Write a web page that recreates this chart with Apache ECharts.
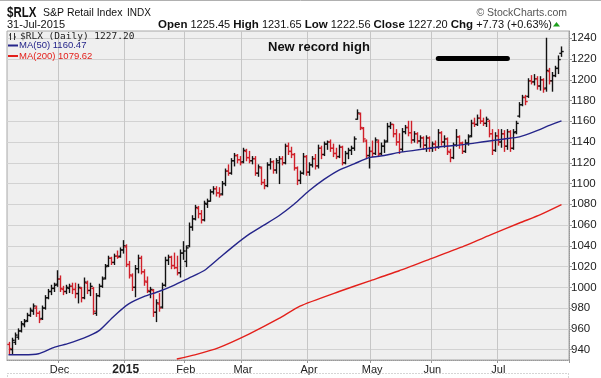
<!DOCTYPE html>
<html>
<head>
<meta charset="utf-8">
<script src="https://cdn.jsdelivr.net/npm/echarts@6/dist/echarts.min.js"></script>
<style>
  html, body { margin: 0; padding: 0; background: #fff; }
  #chart { width: 601px; height: 378px; }
</style>
</head>
<body>
<div id="chart"></div>
<script>
// $RLX daily bars, 5-Nov-2014 .. 31-Jul-2015 (one row per month)
var opens = [
  945,940,947,952,958,964,968,973,977,980,975,970,980,990,996,999,1003,
  1008,998,996,999,1001,998,994,999,990,1004,997,999,975,992,1001,1009,1021,1028,1024,1030,1030,1036,
  1039,1022,1011,1000,1018,1028,1015,1005,996,997,976,984,981,1002,1026,1029,1021,1019,1014,1033,
  1025,1040,1058,1066,1076,1071,1065,1080,1083,1092,1095,1091,1090,1100,1112,1110,1122,1127,1123,
  1121,1131,1125,1122,1124,1110,1115,1101,1098,1118,1121,1113,1120,1124,1120,1136,1131,1128,1115,1103,1110,1126,
  1111,1118,1124,1117,1134,1128,1138,1140,1134,1129,1126,1135,1120,1129,1132,1134,1162,1167,1153,1141,1127,
  1131,1129,1140,1129,1136,1141,1155,1157,1148,1140,1133,1150,1154,1149,1142,1148,1141,1144,1137,1144,
  1134,1138,1135,1149,1140,1143,1130,1125,1137,1145,1139,1131,1139,1146,1158,1157,1163,1160,1158,1160,1148,1132,
  1146,1140,1148,1136,1150,1134,1150,1165,1176,1183,1184,1199,1198,1201,1194,1200,1192,1208,1199,1204,1211,1225.45
];
var highs = [
  947,951,956,960,967,969,975,980,984,982,977,982,992,998,1002,1004,1016,
  1011,1001,1002,1003,1004,1004,1003,1000,1009,1006,1004,1000,994,1003,1010,1022,1030,1029,1032,1035,1038,1045,
  1041,1025,1013,1021,1031,1030,1017,1010,1000,998,988,994,1004,1029,1031,1030,1033,1030,1036,1044,
  1040,1062,1069,1079,1078,1074,1083,1085,1094,1097,1097,1096,1102,1114,1118,1124,1129,1128,1126,
  1134,1133,1131,1126,1126,1118,1116,1104,1120,1124,1122,1124,1126,1126,1138,1139,1135,1129,1116,1112,1129,1127,
  1120,1126,1128,1137,1136,1140,1141,1142,1138,1134,1137,1136,1131,1134,1136,1145,1171,1168,1154,1142,1135,
  1141,1144,1142,1139,1142,1158,1159,1157,1152,1148,1153,1156,1160,1160,1150,1149,1146,1145,1146,1145,
  1140,1141,1152,1150,1146,1144,1133,1139,1152,1146,1140,1142,1147,1161,1163,1166,1171,1163,1164,1161,1152,1149,
  1152,1152,1151,1152,1151,1152,1160,1178,1185,1185,1201,1204,1205,1203,1203,1201,1240,1211,1207,1213,1223,1231.65
];
var lows = [
  936,936,945,950,957,962,967,972,974,972,966,969,979,989,993,996,1001,
  996,993,994,995,994,990,985,986,989,994,992,974,973,991,1000,1008,1020,1022,1022,1028,1029,1033,
  1020,1009,997,991,1014,1013,1002,995,990,972,967,977,980,1001,1022,1018,1018,1012,1010,1027,
  1020,1039,1055,1065,1067,1062,1064,1077,1083,1090,1088,1087,1089,1098,1108,1109,1117,1120,1118,
  1120,1122,1120,1119,1108,1107,1099,1095,1097,1114,1110,1110,1100,1118,1119,1128,1125,1113,1099,1100,1109,1108,
  1108,1116,1114,1115,1124,1127,1133,1131,1126,1124,1125,1118,1119,1124,1128,1132,1162,1152,1140,1124,1115,
  1126,1128,1126,1128,1130,1140,1153,1145,1137,1129,1131,1148,1146,1139,1140,1139,1135,1133,1131,1131,
  1131,1132,1134,1137,1135,1128,1121,1124,1136,1134,1129,1130,1137,1145,1155,1156,1158,1156,1155,1145,1128,1131,
  1137,1135,1131,1133,1131,1133,1148,1164,1175,1176,1183,1196,1195,1191,1190,1188,1189,1196,1189,1203,1206,1222.56
];
var closes = [
  941,949,954,958,965,967,973,978,982,975,969,980,990,996,999,1002,1008,
  999,996,1000,1001,998,994,1000,990,1005,997,1001,977,992,1001,1008,1020,1028,1024,1030,1029,1036,1040,
  1022,1012,1000,1018,1028,1015,1006,997,998,976,985,980,1002,1026,1029,1021,1019,1014,1033,1035,
  1038,1058,1066,1077,1071,1065,1081,1083,1092,1095,1091,1089,1100,1112,1110,1122,1127,1123,1120,
  1132,1125,1122,1124,1110,1116,1101,1098,1118,1121,1113,1122,1124,1120,1136,1131,1128,1115,1103,1110,1126,1111,
  1118,1124,1117,1134,1128,1138,1140,1134,1129,1126,1135,1120,1129,1132,1134,1143,1168,1154,1143,1127,1131,
  1129,1142,1128,1136,1140,1155,1157,1148,1140,1133,1150,1154,1149,1142,1148,1141,1144,1137,1144,1134,
  1138,1135,1149,1140,1143,1131,1125,1137,1145,1139,1131,1139,1145,1158,1157,1163,1160,1158,1162,1148,1132,1146,
  1140,1148,1136,1150,1134,1149,1158,1176,1183,1179,1199,1198,1201,1194,1200,1191,1209,1199,1204,1211,1219.47,1227.20
];

// moving averages (bar index -> value)
var ma50At = [0,5,10,15,20,25,30,35,40,45,50,55,60,65,70,75,80,85,90,95,100,105,110,115,120,125,130,135,140,145,150,155,160,165,170,175,180,184];
var ma50 = [935,935,936,942,946,951,958,972,984,991,996,1002,1009,1016,1028,1040,1051,1060,1069,1080,1093,1104,1113,1119,1125,1127,1130,1132,1134,1136,1137,1139,1141,1143,1145,1150,1156,1160.47];
var ma200At = [56,62,70,80,90,97,110,120,130,140,150,160,170,177,184];
var ma200 = [931,935,942,955,970,982,996,1006,1016,1027,1038,1050,1062,1070,1079.62];

var yTicks = [940,960,980,1000,1020,1040,1060,1080,1100,1120,1140,1160,1180,1200,1220,1240];
var monthLabels = {'12': 'Dec', '01': '2015', '02': 'Feb', '03': 'Mar', '04': 'Apr', '05': 'May', '06': 'Jun', '07': 'Jul'};
var holidays = ['2014-11-27','2014-12-25','2015-01-01','2015-01-19','2015-02-16','2015-04-03','2015-05-25','2015-07-03'];

function tradingDays(start, end) {
    var out = [];
    var d = new Date(start + 'T00:00:00Z'), e = new Date(end + 'T00:00:00Z');
    while (d <= e) {
        var wd = d.getUTCDay(), s = d.toISOString().slice(0, 10);
        if (wd !== 0 && wd !== 6 && holidays.indexOf(s) < 0) out.push(s);
        d.setUTCDate(d.getUTCDate() + 1);
    }
    return out;
}
// two empty days of padding on the right, like the original
var dates = tradingDays('2014-11-05', '2015-08-04');

function isMonthStart(idx) {
    if (idx <= 0 || idx >= dates.length) return false;
    var m = dates[idx].slice(5, 7);
    return m !== dates[idx - 1].slice(5, 7) && monthLabels[m] !== undefined;
}

var bars = [];
for (var i = 0; i < closes.length; i++) {
    var prev = i > 0 ? closes[i - 1] : opens[i];
    bars.push([i, opens[i], closes[i], lows[i], highs[i], closes[i] >= prev ? 1 : 0]);
}
var ma50Data = ma50At.map(function (k, j) { return [dates[k], ma50[j]]; });
var ma200Data = ma200At.map(function (k, j) { return [dates[k], ma200[j]]; });

var FONT = "'Liberation Sans', Arial, sans-serif";
var chart = echarts.init(document.getElementById('chart'));
var option = {
    animation: false,
    backgroundColor: '#fff',
    grid: {left: 7, right: 32, top: 31, bottom: 18, show: true, backgroundColor: '#efefef', borderColor: '#a8a8a8', borderWidth: 1},
    xAxis: {
        type: 'category',
        data: dates,
        boundaryGap: true,
        axisLine: {show: true, lineStyle: {color: '#999', type: 'dotted'}},
        axisTick: {show: true, interval: function (idx) { return isMonthStart(idx); }, length: 3, lineStyle: {color: '#999'}},
        axisLabel: {
            interval: function (idx) { return isMonthStart(idx); },
            formatter: function (v) {
                var m = v.slice(5, 7);
                return m === '01' ? '{b|2015}' : monthLabels[m];
            },
            fontFamily: FONT, fontSize: 11, color: '#222', margin: 4,
            rich: {b: {fontWeight: 'bold', fontSize: 12, fontFamily: FONT, color: '#222'}}
        },
        splitLine: {show: true, interval: function (idx) { return isMonthStart(idx); }, lineStyle: {color: '#c6c6c6'}}
    },
    yAxis: {
        type: 'value',
        position: 'right',
        min: 930,
        max: 1247,
        axisLine: {show: true, lineStyle: {color: '#999', type: 'dotted'}},
        axisTick: {show: true, length: 3, customValues: yTicks, lineStyle: {color: '#999'}},
        axisLabel: {
            customValues: yTicks,
            formatter: function (v) { return String(v); },
            fontFamily: FONT, fontSize: 11.5, color: '#222', margin: 2
        },
        splitLine: {show: true, lineStyle: {color: '#d2d2d2'}}
    },
    series: [
        {
            type: 'custom',
            name: '$RLX',
            clip: true,
            encode: {x: 0, y: [1, 2, 3, 4]},
            data: bars,
            renderItem: function (params, api) {
                var idx = api.value(0);
                var pO = api.coord([idx, api.value(1)]);
                var pC = api.coord([idx, api.value(2)]);
                var pL = api.coord([idx, api.value(3)]);
                var pH = api.coord([idx, api.value(4)]);
                var col = api.value(5) ? '#111' : '#d0202a';
                var x = Math.round(pH[0]) + 0.5;
                var st = {stroke: col, lineWidth: 1.4};
                return {
                    type: 'group',
                    children: [
                        {type: 'line', shape: {x1: x, y1: pH[1] - 0.5, x2: x, y2: pL[1] + 0.5}, style: st},
                        {type: 'line', shape: {x1: x - 2.2, y1: pO[1], x2: x, y2: pO[1]}, style: st},
                        {type: 'line', shape: {x1: x, y1: pC[1], x2: x + 2.2, y2: pC[1]}, style: st}
                    ]
                };
            }
        },
        {
            type: 'line',
            name: 'MA(50)',
            data: ma50Data,
            symbol: 'none',
            smooth: 0.2,
            clip: true,
            lineStyle: {color: '#25258a', width: 1.4},
            markLine: {
                silent: true,
                symbol: ['none', 'none'],
                label: {show: false},
                lineStyle: {color: '#000', width: 5, type: 'solid', cap: 'round'},
                data: [[{coord: [dates[143], 1221]}, {coord: [dates[166], 1221]}]]
            }
        },
        {
            type: 'line',
            name: 'MA(200)',
            data: ma200Data,
            symbol: 'none',
            smooth: 0.2,
            clip: true,
            lineStyle: {color: '#e3201b', width: 1.4}
        }
    ],
    graphic: [
        {type: 'line', z: 100, shape: {x1: 0, y1: 0.5, x2: 601, y2: 0.5}, style: {stroke: '#b0b0b0', lineWidth: 1}},
        {type: 'rect', z: 100, shape: {x: 7.5, y: 373.5, width: 561, height: 30}, style: {fill: null, stroke: '#aaa', lineDash: [1, 2]}},
        {type: 'text', z: 100, x: 7, y: 13, scaleX: 0.82, style: {text: '$RLX', fontFamily: FONT, fontWeight: 'bold', fontSize: 14, fill: '#111', verticalAlign: 'middle'}},
        {type: 'text', z: 100, x: 43, y: 13.5, style: {text: 'S&P Retail Index', fontFamily: FONT, fontSize: 10.5, fill: '#111', verticalAlign: 'middle'}},
        {type: 'text', z: 100, x: 127, y: 13.5, style: {text: 'INDX', fontFamily: FONT, fontSize: 10, fill: '#111', verticalAlign: 'middle'}},
        {type: 'text', z: 100, x: 7, y: 25, style: {text: '31-Jul-2015', fontFamily: FONT, fontSize: 11, fill: '#111', verticalAlign: 'middle'}},
        {type: 'text', z: 100, x: 567, y: 13, style: {text: '\u00a9 StockCharts.com', fontFamily: FONT, fontSize: 10.5, fill: '#555', align: 'right', verticalAlign: 'middle'}},
        {type: 'text', z: 100, x: 552, y: 25, style: {
            text: '{b|Open} 1225.45 {b|High} 1231.65 {b|Low} 1222.56 {b|Close} 1227.20 {b|Chg} +7.73 (+0.63%)',
            fontFamily: FONT, fontSize: 11, fill: '#111', align: 'right', verticalAlign: 'middle',
            rich: {b: {fontFamily: FONT, fontWeight: 'bold', fontSize: 11.5, fill: '#111'}}
        }},
        {type: 'polygon', z: 100, shape: {points: [[553, 26.5], [560, 26.5], [556.5, 22]]}, style: {fill: '#1ea01e'}},
        // legend inside the plot
        {type: 'group', z: 100, x: 9, y: 33, children: [
            {type: 'line', z: 100, shape: {x1: 1.5, y1: 0, x2: 1.5, y2: 7}, style: {stroke: '#333', lineWidth: 1}},
            {type: 'line', z: 100, shape: {x1: 0, y1: 2, x2: 1.5, y2: 2}, style: {stroke: '#333', lineWidth: 1}},
            {type: 'line', z: 100, shape: {x1: 5.5, y1: 0, x2: 5.5, y2: 7}, style: {stroke: '#333', lineWidth: 1}},
            {type: 'line', z: 100, shape: {x1: 5.5, y1: 4, x2: 7, y2: 4}, style: {stroke: '#333', lineWidth: 1}}
        ]},
        {type: 'text', z: 100, x: 20, y: 36.5, style: {text: '$RLX (Daily) 1227.20', fontFamily: "'DejaVu Sans Mono', monospace", fontSize: 9.5, fill: '#222', verticalAlign: 'middle'}},
        {type: 'line', z: 100, shape: {x1: 8, y1: 45.5, x2: 18, y2: 45.5}, style: {stroke: '#25258a', lineWidth: 2}},
        {type: 'text', z: 100, x: 19, y: 45.5, style: {text: 'MA(50) 1160.47', fontFamily: FONT, fontSize: 9.5, fill: '#25258a', verticalAlign: 'middle'}},
        {type: 'line', z: 100, shape: {x1: 8, y1: 56, x2: 18, y2: 56}, style: {stroke: '#e3201b', lineWidth: 2}},
        {type: 'text', z: 100, x: 19, y: 56, style: {text: 'MA(200) 1079.62', fontFamily: FONT, fontSize: 9.5, fill: '#e3201b', verticalAlign: 'middle'}},
        {type: 'text', z: 100, x: 268, y: 47, style: {text: 'New record high', fontFamily: FONT, fontWeight: 'bold', fontSize: 13, fill: '#111', verticalAlign: 'middle'}}
    ]
};
chart.setOption(option);
</script>
</body>
</html>
